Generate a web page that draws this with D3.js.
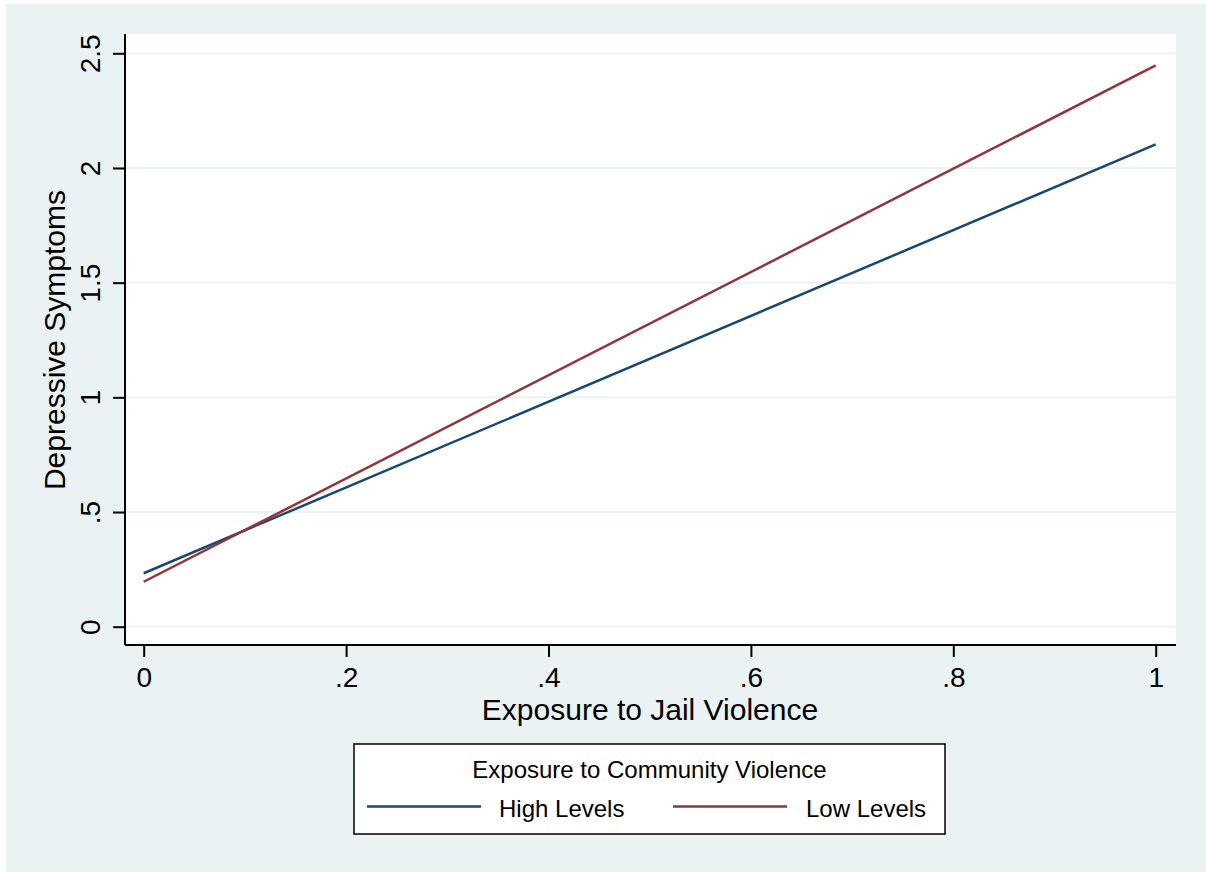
<!DOCTYPE html>
<html>
<head>
<meta charset="utf-8">
<script src="https://cdn.jsdelivr.net/npm/d3@7"></script>
<style>
  html, body { margin: 0; padding: 0; background: #ffffff; }
  svg { display: block; }
  text { font-family: "Liberation Sans", Arial, Helvetica, sans-serif; fill: #000; }
</style>
</head>
<body>
<svg id="chart" width="1206" height="872"></svg>
<script>
// ---- data ----
const xValues = [0, 1];
const highLevels = [0.233, 2.103];
const lowLevels = [0.196, 2.447];
const seriesNames = ["High Levels", "Low Levels"];
const seriesColors = ["#1a476f", "#90353b"];
const yTicks = [0, 0.5, 1, 1.5, 2, 2.5];
const yTickLabels = ["0", ".5", "1", "1.5", "2", "2.5"];
const xTicks = [0, 0.2, 0.4, 0.6, 0.8, 1];
const xTickLabels = ["0", ".2", ".4", ".6", ".8", "1"];
const xTitle = "Exposure to Jail Violence";
const yTitle = "Depressive Symptoms";
const legendTitle = "Exposure to Community Violence";

const svg = d3.select("#chart");

// outer background
svg.append("rect").attr("x", 6).attr("y", 4).attr("width", 1200).attr("height", 868).attr("fill", "#eaf2f3");

// plot region
const plot = { left: 125, top: 34, right: 1176, bottom: 645 };
svg.append("rect").attr("x", plot.left).attr("y", plot.top)
  .attr("width", plot.right - plot.left).attr("height", plot.bottom - plot.top).attr("fill", "#ffffff");

const x = d3.scaleLinear().domain([0, 1]).range([143.7, 1155.7]);
const y = d3.scaleLinear().domain([0, 2.5]).range([626.7, 53.3]);

// gridlines
svg.append("g").selectAll("line").data(yTicks).join("line")
  .attr("x1", plot.left).attr("x2", plot.right)
  .attr("y1", d => y(d)).attr("y2", d => y(d))
  .attr("stroke", "#eaf2f3").attr("stroke-width", 2);

// y axis
const yAxis = d3.axisLeft(y).tickValues(yTicks).tickFormat((d, i) => yTickLabels[i]).tickSize(12).tickPadding(0);
const gy = svg.append("g").attr("transform", `translate(${plot.left},0)`).call(yAxis);
gy.select(".domain").attr("d", `M0,${plot.top}V${plot.bottom}`).attr("stroke", "#000").attr("stroke-width", 2);
gy.selectAll(".tick line").attr("stroke", "#000").attr("stroke-width", 2);
gy.selectAll(".tick text")
  .attr("x", null).attr("dy", null)
  .attr("transform", "translate(-25,0) rotate(-90)")
  .attr("text-anchor", "middle")
  .style("font-size", "28px")
  .style("font-family", "'Liberation Sans', Arial, sans-serif")
  .attr("fill", "#000");

// x axis
const xAxis = d3.axisBottom(x).tickValues(xTicks).tickFormat((d, i) => xTickLabels[i]).tickSize(12).tickPadding(0);
const gx = svg.append("g").attr("transform", `translate(0,${plot.bottom})`).call(xAxis);
gx.select(".domain").attr("d", `M${plot.left},0H${plot.right}`).attr("stroke", "#000").attr("stroke-width", 2);
gx.selectAll(".tick line").attr("stroke", "#000").attr("stroke-width", 2);
gx.selectAll(".tick text")
  .attr("y", 42).attr("dy", null)
  .style("font-size", "28px")
  .style("font-family", "'Liberation Sans', Arial, sans-serif")
  .attr("fill", "#000");

// lines
const lineGen = d3.line().x(d => x(d[0])).y(d => y(d[1]));
const series = [highLevels, lowLevels];
series.forEach((vals, i) => {
  svg.append("path")
    .datum(xValues.map((xv, j) => [xv, vals[j]]))
    .attr("d", lineGen)
    .attr("fill", "none")
    .attr("stroke", seriesColors[i])
    .attr("stroke-width", 2.5);
});

// axis titles
svg.append("text").attr("x", 650).attr("y", 720).attr("text-anchor", "middle")
  .style("font-size", "30px").text(xTitle);
svg.append("text").attr("transform", "translate(65,340) rotate(-90)").attr("text-anchor", "middle")
  .style("font-size", "30px").text(yTitle);

// legend
const lg = svg.append("g");
lg.append("rect").attr("x", 354).attr("y", 744).attr("width", 591).attr("height", 90)
  .attr("fill", "#ffffff").attr("stroke", "#000").attr("stroke-width", 1.5);
lg.append("text").attr("x", 649.5).attr("y", 778).attr("text-anchor", "middle")
  .style("font-size", "24px").text(legendTitle);
const legendItems = [
  { x1: 367, x2: 481, tx: 499 },
  { x1: 673, x2: 787, tx: 806 }
];
legendItems.forEach((it, i) => {
  lg.append("line").attr("x1", it.x1).attr("x2", it.x2).attr("y1", 806.5).attr("y2", 806.5)
    .attr("stroke", seriesColors[i]).attr("stroke-width", 2.5);
  lg.append("text").attr("x", it.tx).attr("y", 816.5).style("font-size", "24px").text(seriesNames[i]);
});
</script>
</body>
</html>
